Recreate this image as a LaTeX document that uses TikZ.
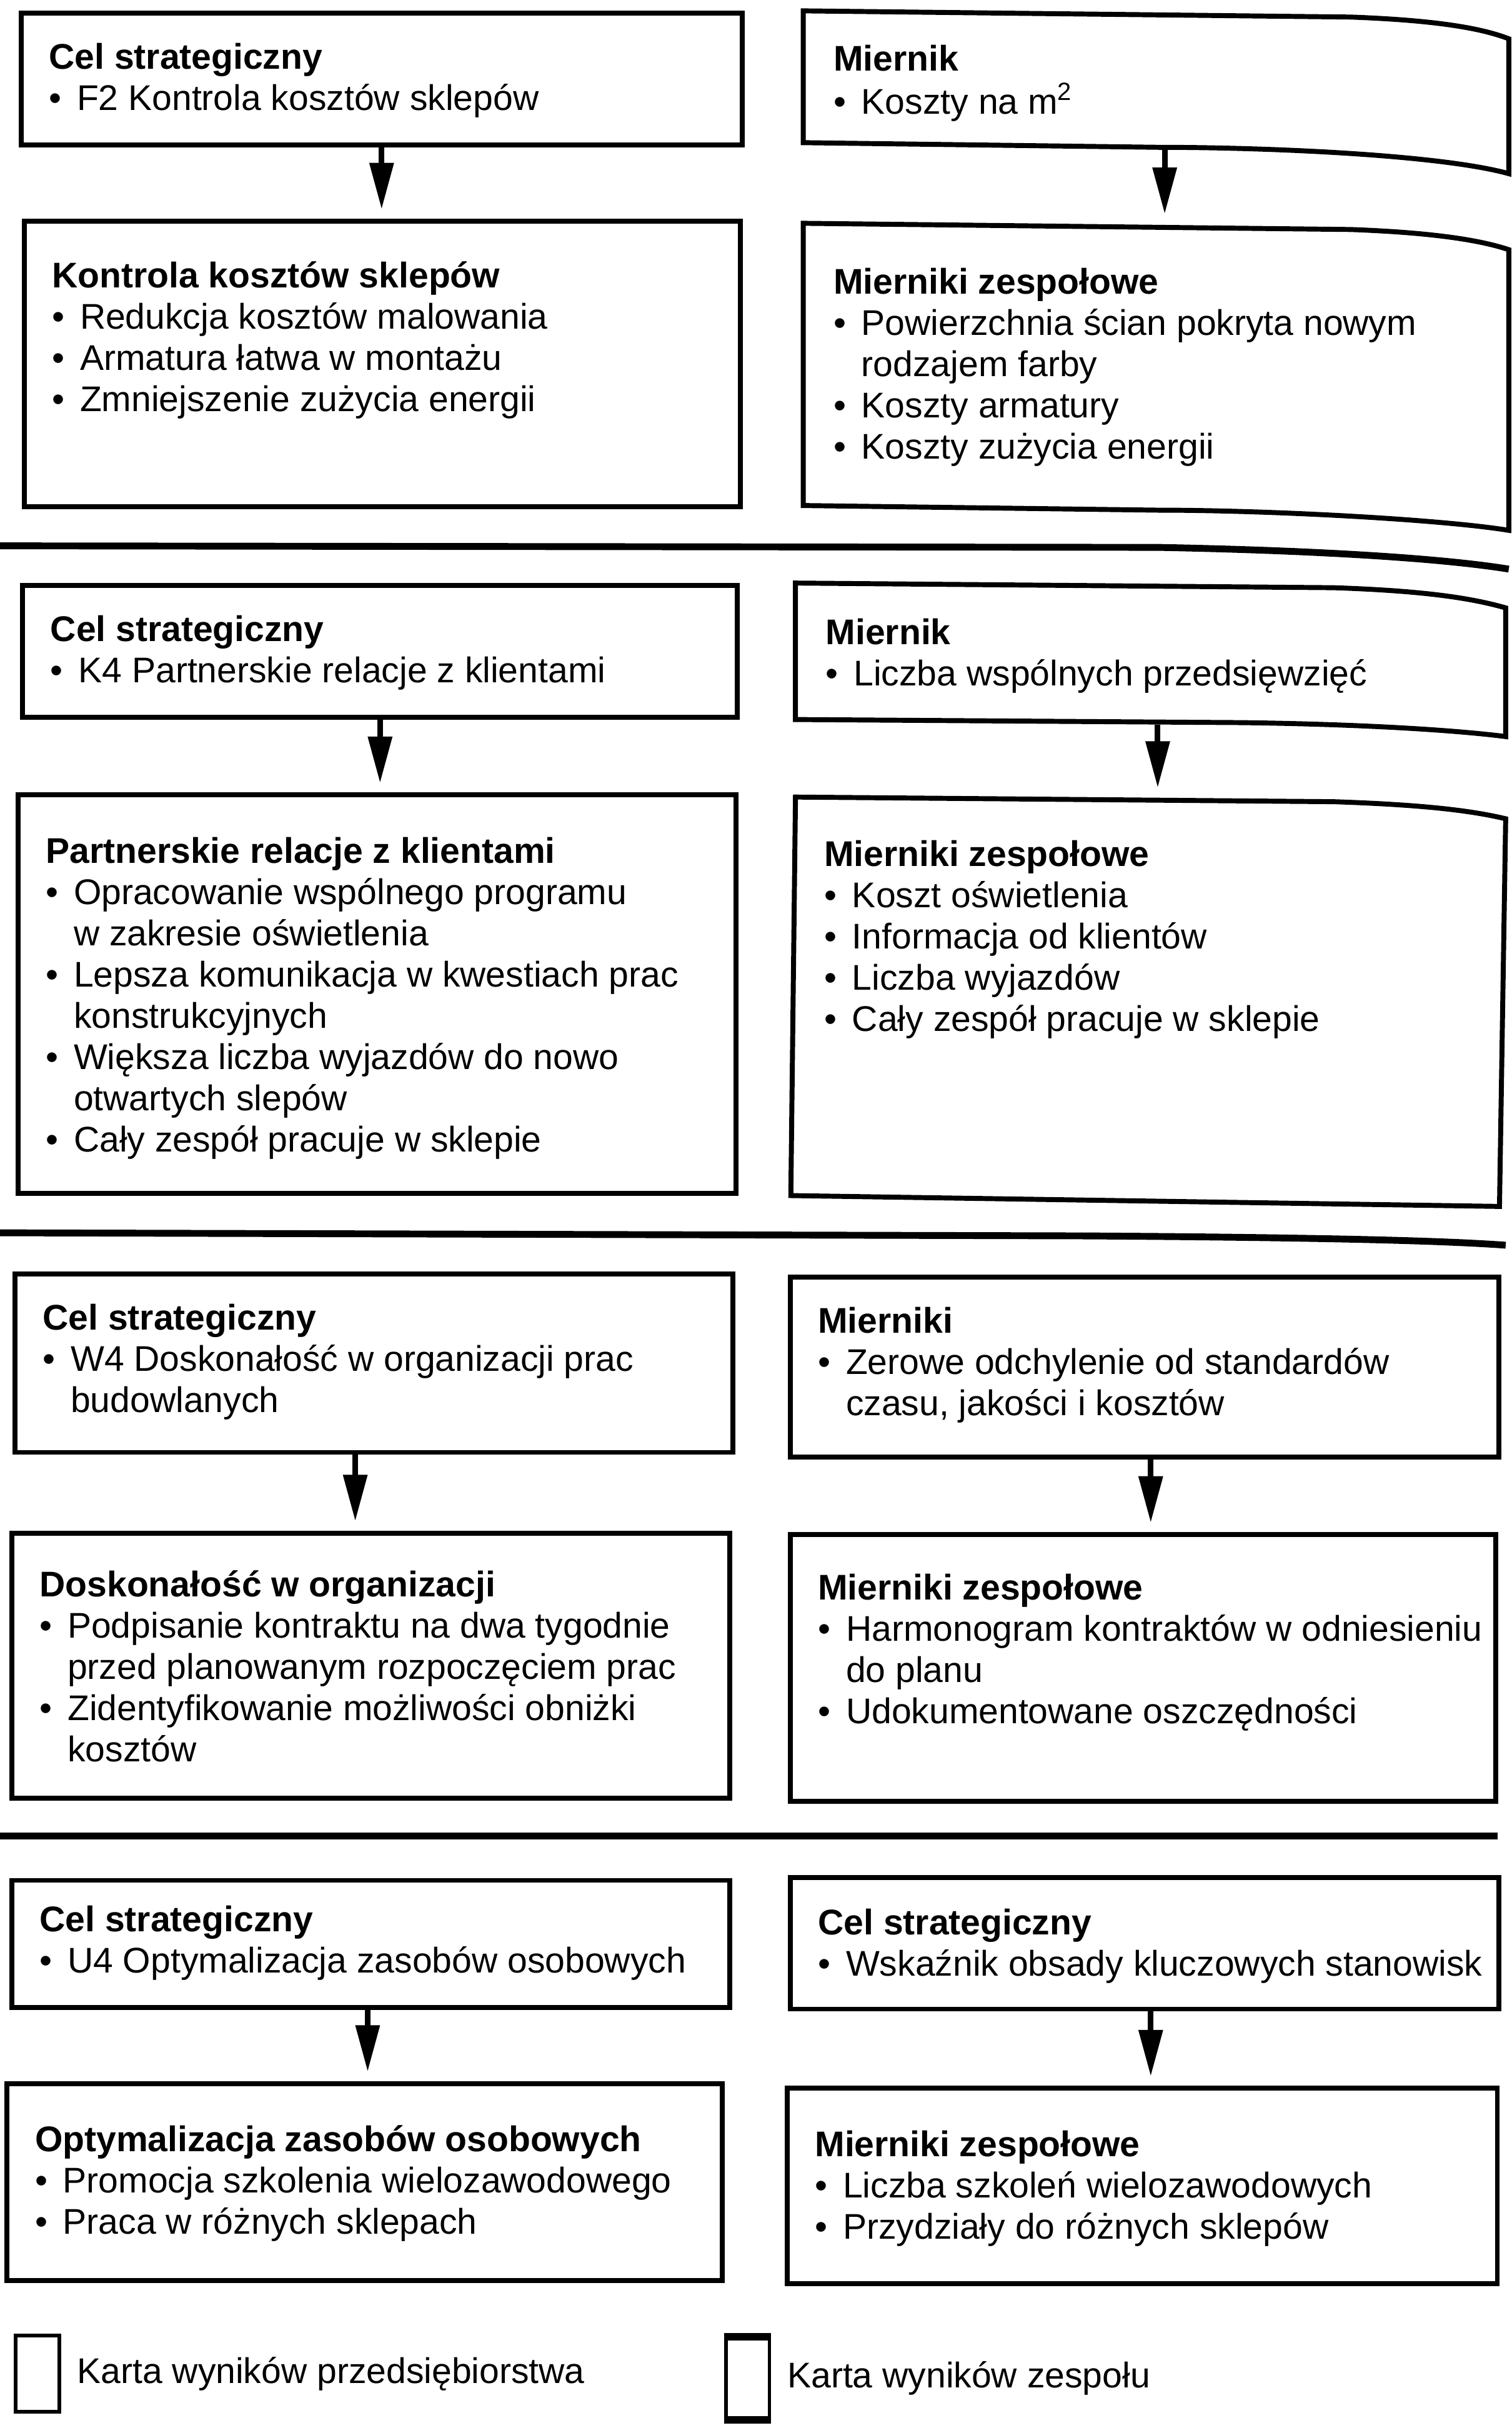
\documentclass[tikz,border=0pt]{standalone}
\usepackage{fontspec}
\setmainfont{Liberation Sans}
\usetikzlibrary{arrows.meta,positioning}

\newcommand\itm{\makebox[9pt][l]{\textbullet}}
\newcommand\dal{\hspace*{9pt}}
\newcommand\ttl[2][18pt]{\rule{0pt}{#1}\textbf{#2}}
\newcommand\kartka[3]{\parbox[t][#2][t]{#1}{\begin{tabular}[t]{@{}l@{}}#3\end{tabular}}}

\tikzset{
  card/.style={draw, line width=1.6pt, anchor=north west, inner xsep=9pt, inner ysep=0pt,
    font=\fontsize{11.5}{13.3}\selectfont},
  teamcard/.style={card, draw=none},
  curl/.style={line width=1.6pt, line join=miter},
  arr/.style={line width=1.8pt, -{Triangle[length=15pt,width=7.5pt]}, shorten >=3pt},
  sepline/.style={line width=2.2pt},
  legbox/.style={draw, line width=1.2pt, minimum width=14pt, minimum height=24.5pt, inner sep=0pt},
  legtxt/.style={inner sep=0pt, font=\fontsize{11.5}{13.3}\selectfont},
}

\begin{document}
\begin{tikzpicture}[x=0.5pt,y=-0.5pt]
\useasboundingbox (0,0) rectangle (975,1569);

% F2
\node[card] (s1cel) at (12,7) {\kartka{214.5pt}{42.5pt}{\ttl{Cel strategiczny}\\ \itm F2 Kontrola kosztów sklepów}};
\node[teamcard] (s1mier) at (518,7) {\kartka{209.5pt}{42.5pt}{\ttl[18.5pt]{Miernik}\\ \itm Koszty na m\textsuperscript{2}}};
\node[card] (s1zad) at (14,141) {\kartka{213pt}{92pt}{\ttl[21.5pt]{Kontrola kosztów sklepów}\\
  \itm Redukcja kosztów malowania\\ \itm Armatura łatwa w montażu\\ \itm Zmniejszenie zużycia energii}};
\node[teamcard] (s1zesp) at (518,144) {\kartka{209.5pt}{91pt}{\ttl[22pt]{Mierniki zespołowe}\\
  \itm Powierzchnia ścian pokryta nowym\\ \dal rodzajem farby\\ \itm Koszty armatury\\ \itm Koszty zużycia energii}};
\draw[curl] (518,92) -- (518,7) -- (871,11) .. controls (925,13) and (955,18) .. (973,25)
  -- (973,112) .. controls (930,100) and (820,95) .. (747,95) -- cycle;
\draw[curl] (518,326) -- (518,144) -- (871,148) .. controls (925,150) and (955,155) .. (973,161)
  -- (973,342) .. controls (930,335) and (820,329) .. (747,329) -- cycle;
\draw[arr] (s1cel.south) -- (s1cel.south |- s1zad.north);
\draw[arr] ([xshift=2pt]s1mier.south) -- ([xshift=2pt]s1mier.south |- s1zesp.north);

\draw[sepline] (0,352) -- (747,353) .. controls (850,355) and (930,360) .. (973,367);

% K4
\node[card] (s2cel) at (13,376) {\kartka{212.5pt}{42.5pt}{\ttl{Cel strategiczny}\\ \itm K4 Partnerskie relacje z klientami}};
\node[teamcard] (s2mier) at (513,376) {\kartka{211pt}{44pt}{\ttl[19pt]{Miernik}\\ \itm Liczba wspólnych przedsięwzięć}};
\node[card] (s2zad) at (10,511) {\kartka{213.5pt}{128.5pt}{\ttl[22pt]{Partnerskie relacje z klientami}\\
  \itm Opracowanie wspólnego programu\\ \dal w zakresie oświetlenia\\
  \itm Lepsza komunikacja w kwestiach prac\\ \dal konstrukcyjnych\\
  \itm Większa liczba wyjazdów do nowo\\ \dal otwartych slepów\\
  \itm Cały zespół pracuje w sklepie}};
\node[teamcard] (s2zesp) at (512,514) {\kartka{210.5pt}{130.5pt}{\ttl[21.5pt]{Mierniki zespołowe}\\
  \itm Koszt oświetlenia\\ \itm Informacja od klientów\\ \itm Liczba wyjazdów\\ \itm Cały zespół pracuje w sklepie}};
\draw[curl] (513,464) -- (513,376) -- (860,379) .. controls (920,381) and (950,386) .. (971,392)
  -- (971,475) .. controls (940,471) and (880,467) .. (800,466) -- cycle;
\draw[curl] (510,771) -- (513,514) -- (860,517) .. controls (920,519) and (950,523) .. (971,528)
  -- (967,778) -- cycle;
\draw[arr] (s2cel.south) -- (s2cel.south |- s2zad.north);
\draw[arr] ([xshift=1.5pt]s2mier.south) -- ([xshift=1.5pt]s2mier.south |- s2zesp.north);

\draw[sepline] (0,795) -- (700,797) .. controls (850,798) and (930,800) .. (971,803);

% W4
\node[card] (s3cel) at (8,820) {\kartka{213.5pt}{57.5pt}{\ttl{Cel strategiczny}\\
  \itm W4 Doskonałość w organizacji prac\\ \dal budowlanych}};
\node[card] (s3mier) at (508,822) {\kartka{210.5pt}{58pt}{\ttl{Mierniki}\\
  \itm Zerowe odchylenie od standardów\\ \dal czasu, jakości i kosztów}};
\node[card] (s3zad) at (6,987) {\kartka{213.5pt}{85.5pt}{\ttl[20.5pt]{Doskonałość w organizacji}\\
  \itm Podpisanie kontraktu na dwa tygodnie\\ \dal przed planowanym rozpoczęciem prac\\
  \itm Zidentyfikowanie możliwości obniżki\\ \dal kosztów}};
\node[card] (s3zesp) at (508,988) {\kartka{209.5pt}{86pt}{\ttl[21pt]{Mierniki zespołowe}\\
  \itm Harmonogram kontraktów w odniesieniu\\ \dal do planu\\ \itm Udokumentowane oszczędności}};
\draw[arr] ([xshift=-6pt]s3cel.south) -- ([xshift=-6pt]s3cel.south |- s3zad.north);
\draw[arr] ([xshift=2pt]s3mier.south) -- ([xshift=2pt]s3mier.south |- s3zesp.north);

\draw[sepline] (0,1184) -- (966,1184);

% U4
\node[card] (s4cel) at (6,1211) {\kartka{213.5pt}{41pt}{\ttl[16.5pt]{Cel strategiczny}\\
  \itm U4 Optymalizacja zasobów osobowych}};
\node[card] (s4mier) at (508,1209) {\kartka{210.5pt}{42.5pt}{\ttl[18.5pt]{Cel strategiczny}\\
  \itm Wskaźnik obsady kluczowych stanowisk}};
\node[card] (s4zad) at (3,1342) {\kartka{212.5pt}{63.5pt}{\ttl[22pt]{Optymalizacja zasobów osobowych}\\
  \itm Promocja szkolenia wielozawodowego\\ \itm Praca w różnych sklepach}};
\node[card] (s4zesp) at (506,1345) {\kartka{211pt}{63pt}{\ttl[22pt]{Mierniki zespołowe}\\
  \itm Liczba szkoleń wielozawodowych\\ \itm Przydziały do różnych sklepów}};
\draw[arr] ([xshift=-1pt]s4cel.south) -- ([xshift=-1pt]s4cel.south |- s4zad.north);
\draw[arr] ([xshift=2pt]s4mier.south) -- ([xshift=2pt]s4mier.south |- s4zesp.north);

% legenda
\node[legbox, anchor=north west] (legfirm) at (9,1505) {};
\node[legtxt, right=5pt of legfirm] (legfirm-t) {Karta wyników przedsiębiorstwa};
\node[legbox, anchor=north west, minimum height=25.5pt] (legteam) at (467,1507) {};
\node[legtxt, right=5pt of legteam] (legteam-t) {Karta wyników zespołu};
\draw[line width=2.4pt] (legteam.north west) -- (legteam.north east) (legteam.south west) -- (legteam.south east);

\end{tikzpicture}
\end{document}
